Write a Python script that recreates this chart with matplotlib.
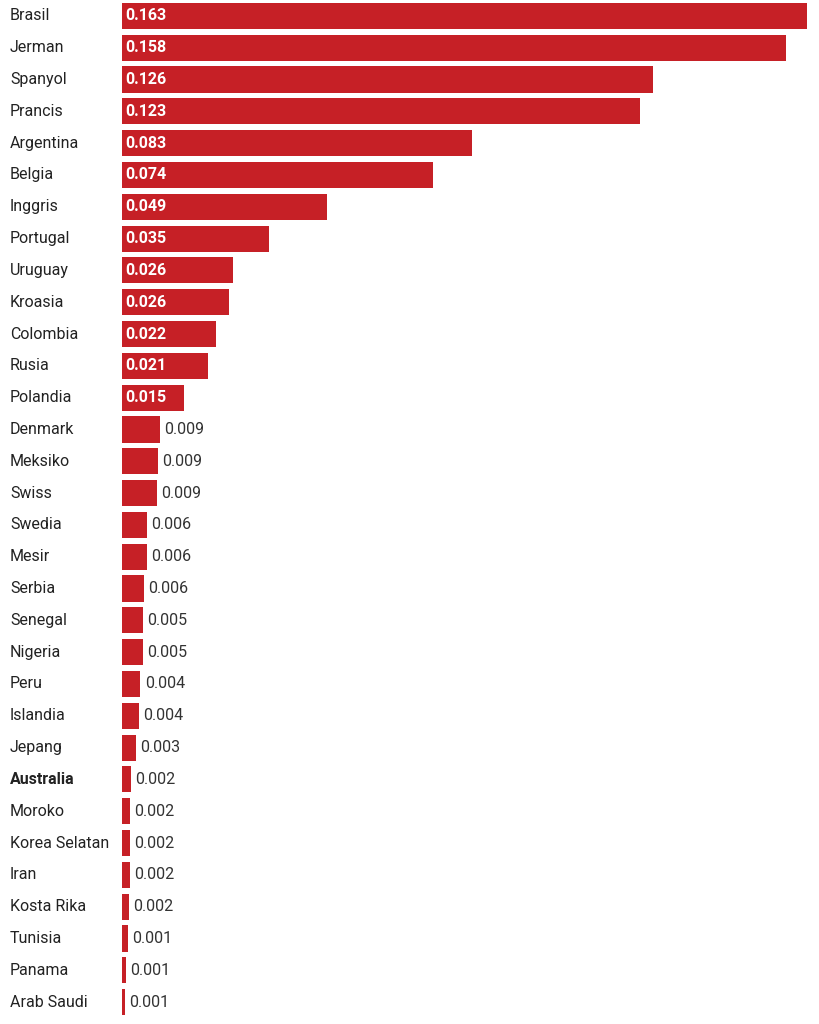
import matplotlib
matplotlib.use("Agg")
import matplotlib.pyplot as plt

plt.rcParams["font.family"] = ["Roboto", "DejaVu Sans"]

# ---------------------------------------------------------------------------
# Data (bar lengths, labels as printed)
# ---------------------------------------------------------------------------
countries = [
    "Brasil", "Jerman", "Spanyol", "Prancis", "Argentina", "Belgia", "Inggris",
    "Portugal", "Uruguay", "Kroasia", "Colombia", "Rusia", "Polandia",
    "Denmark", "Meksiko", "Swiss", "Swedia", "Mesir", "Serbia", "Senegal",
    "Nigeria", "Peru", "Islandia", "Jepang", "Australia", "Moroko",
    "Korea Selatan", "Iran", "Kosta Rika", "Tunisia", "Panama", "Arab Saudi",
]
values = [
    0.163, 0.158, 0.1263, 0.1232, 0.0834, 0.0741, 0.0489,
    0.0350, 0.0265, 0.0255, 0.0224, 0.0205, 0.0148,
    0.0091, 0.0086, 0.0083, 0.0060, 0.0060, 0.0053, 0.0051,
    0.0050, 0.0044, 0.0041, 0.0034, 0.0022, 0.0020,
    0.0019, 0.0019, 0.0017, 0.0014, 0.0010, 0.0008,
]
value_labels = [
    "0.163", "0.158", "0.126", "0.123", "0.083", "0.074", "0.049",
    "0.035", "0.026", "0.026", "0.022", "0.021", "0.015",
    "0.009", "0.009", "0.009", "0.006", "0.006", "0.006", "0.005",
    "0.005", "0.004", "0.004", "0.003", "0.002", "0.002",
    "0.002", "0.002", "0.002", "0.001", "0.001", "0.001",
]
highlight = "Australia"

BAR_COLOR = "#C62026"
TEXT_COLOR = "#333333"
INSIDE_MIN = 0.012   # labels go inside bars above this length
FS = 11.5

W, H = 820, 1024
fig = plt.figure(figsize=(W / 100, H / 100), dpi=100)
ax = fig.add_axes([122 / W, 6 / H, (807 - 122) / W, 1018 / H])

n = len(countries)
ypos = list(range(n))
ax.barh(ypos, values, height=0.82, color=BAR_COLOR, edgecolor="none")
ax.set_ylim(n - 0.5, -0.5)
ax.set_xlim(0, 0.163)
ax.axis("off")

for y, v, lab, name in zip(ypos, values, value_labels, countries):
    if v >= INSIDE_MIN:
        ax.annotate(lab, xy=(0, y), xytext=(2.5, 0), textcoords="offset points",
                    ha="left", va="center", fontsize=FS, color="white",
                    fontweight="bold")
    else:
        ax.annotate(lab, xy=(v, y), xytext=(3, 0), textcoords="offset points",
                    ha="left", va="center", fontsize=FS, color=TEXT_COLOR)
    ax.annotate(name, xy=(0, y), xycoords=("figure pixels", "data"),
                xytext=(10 * 0.72, 0), textcoords="offset points",
                ha="left", va="center", fontsize=FS, color="#222222",
                fontweight="bold" if name == highlight else "normal")

fig.savefig("out.png", dpi=100)
